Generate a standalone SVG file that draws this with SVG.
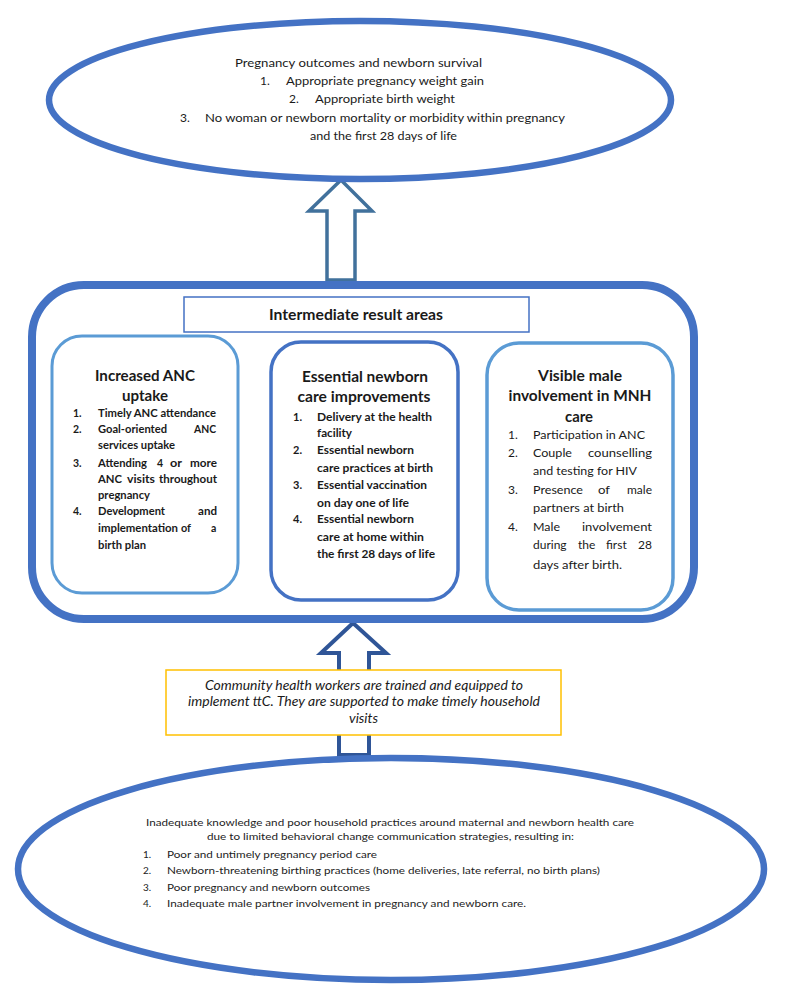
<svg xmlns="http://www.w3.org/2000/svg" width="785" height="995" viewBox="0 0 785 995">
<style>
text{font-family:Lato,"Liberation Sans",Arial,sans-serif;fill:#1a1a1a}
.big{fill:#fff;stroke:#4472C4;stroke-width:6.5}
.t12{font-size:12px}
.hd{font-size:15px;font-weight:bold;text-anchor:middle}
.b1{font-size:10.5px;font-weight:bold}
.b2{font-size:11px;font-weight:bold}
.r3{font-size:12px}
.it{font-size:12.5px;font-style:italic}
.sm{font-size:10px;fill:#222}
</style>
<rect width="785" height="995" fill="#fff"/>
<g id="connectors">
<path d="M341,180 L372,211 L355,211 L355,280 L327,280 L327,211 L309,211 Z" fill="#fff" stroke="#41719C" stroke-width="3.5" stroke-linejoin="miter"/>
<path d="M353,623 L386,653 L369,653 L369,755 L339,755 L339,653 L321,653 Z" fill="#fff" stroke="#2F5597" stroke-width="4" stroke-linejoin="miter"/>
</g>
<g id="outcomes">
<ellipse class="big" cx="360" cy="100" rx="311" ry="79"/>
<text class="t12" x="235" y="67" textLength="247" lengthAdjust="spacingAndGlyphs">Pregnancy outcomes and newborn survival</text>
<text class="t12" x="260" y="85">1.</text>
<text class="t12" x="286" y="85" textLength="198" lengthAdjust="spacingAndGlyphs">Appropriate pregnancy weight gain</text>
<text class="t12" x="289" y="103">2.</text>
<text class="t12" x="315" y="103" textLength="140" lengthAdjust="spacingAndGlyphs">Appropriate birth weight</text>
<text class="t12" x="180" y="122">3.</text>
<text class="t12" x="205" y="122" textLength="360" lengthAdjust="spacingAndGlyphs">No woman or newborn mortality or morbidity within pregnancy</text>
<text class="t12" x="310" y="140" textLength="147" lengthAdjust="spacingAndGlyphs">and the first 28 days of life</text>
</g>
<g id="intermediate">
<rect x="32" y="285" width="662" height="334" rx="52" ry="52" fill="#fff" stroke="#4472C4" stroke-width="8"/>
</g>
<g id="intermediate-label">
<rect x="184" y="297" width="345" height="35" fill="#fff" stroke="#4472C4" stroke-width="1.5"/>
<text x="269" y="320" font-size="14.5" font-weight="bold" textLength="174" lengthAdjust="spacingAndGlyphs">Intermediate result areas</text>
</g>
<g id="anc">
<rect x="52" y="336" width="186" height="257" rx="30" ry="30" fill="#fff" stroke="#5B9BD5" stroke-width="3"/>
<text class="hd" x="145" y="381" textLength="100" lengthAdjust="spacingAndGlyphs">Increased ANC</text>
<text class="hd" x="145" y="401" textLength="46" lengthAdjust="spacingAndGlyphs">uptake</text>
<text class="b1" x="73" y="417">1.</text>
<text class="b1" x="98" y="417" textLength="118" lengthAdjust="spacingAndGlyphs">Timely ANC attendance</text>
<text class="b1" x="73" y="433">2.</text>
<text class="b1" x="98" y="433" textLength="69" lengthAdjust="spacingAndGlyphs">Goal-oriented</text>
<text class="b1" x="194" y="433" textLength="22" lengthAdjust="spacingAndGlyphs">ANC</text>
<text class="b1" x="98" y="449" textLength="77" lengthAdjust="spacingAndGlyphs">services uptake</text>
<text class="b1" x="73" y="467">3.</text>
<text class="b1" x="98" y="467" textLength="49" lengthAdjust="spacingAndGlyphs">Attending</text>
<text class="b1" x="157" y="467">4</text>
<text class="b1" x="170" y="467" textLength="12" lengthAdjust="spacingAndGlyphs">or</text>
<text class="b1" x="190" y="467" textLength="27" lengthAdjust="spacingAndGlyphs">more</text>
<text class="b1" x="98" y="483" textLength="24" lengthAdjust="spacingAndGlyphs">ANC</text>
<text class="b1" x="127" y="483" textLength="28" lengthAdjust="spacingAndGlyphs">visits</text>
<text class="b1" x="159" y="483" textLength="58" lengthAdjust="spacingAndGlyphs">throughout</text>
<text class="b1" x="98" y="499" textLength="52" lengthAdjust="spacingAndGlyphs">pregnancy</text>
<text class="b1" x="73" y="515">4.</text>
<text class="b1" x="98" y="515" textLength="67" lengthAdjust="spacingAndGlyphs">Development</text>
<text class="b1" x="198" y="515" textLength="19" lengthAdjust="spacingAndGlyphs">and</text>
<text class="b1" x="98" y="532" textLength="80" lengthAdjust="spacingAndGlyphs">implementation</text>
<text class="b1" x="181" y="532" textLength="10" lengthAdjust="spacingAndGlyphs">of</text>
<text class="b1" x="211" y="532">a</text>
<text class="b1" x="98" y="549" textLength="48" lengthAdjust="spacingAndGlyphs">birth plan</text>
</g>
<g id="newborn">
<rect x="271" y="342" width="187" height="258" rx="30" ry="30" fill="#fff" stroke="#4472C4" stroke-width="3.5"/>
<text class="hd" x="365" y="382" textLength="126" lengthAdjust="spacingAndGlyphs">Essential newborn</text>
<text class="hd" x="364" y="402" textLength="133" lengthAdjust="spacingAndGlyphs">care improvements</text>
<text class="b2" x="293" y="421">1.</text>
<text class="b2" x="317" y="421" textLength="115" lengthAdjust="spacingAndGlyphs">Delivery at the health</text>
<text class="b2" x="317" y="437" textLength="35" lengthAdjust="spacingAndGlyphs">facility</text>
<text class="b2" x="293" y="454">2.</text>
<text class="b2" x="317" y="454" textLength="97" lengthAdjust="spacingAndGlyphs">Essential newborn</text>
<text class="b2" x="317" y="472" textLength="116" lengthAdjust="spacingAndGlyphs">care practices at birth</text>
<text class="b2" x="293" y="489">3.</text>
<text class="b2" x="317" y="489" textLength="110" lengthAdjust="spacingAndGlyphs">Essential vaccination</text>
<text class="b2" x="317" y="507" textLength="92" lengthAdjust="spacingAndGlyphs">on day one of life</text>
<text class="b2" x="293" y="523">4.</text>
<text class="b2" x="317" y="523" textLength="97" lengthAdjust="spacingAndGlyphs">Essential newborn</text>
<text class="b2" x="317" y="541" textLength="107" lengthAdjust="spacingAndGlyphs">care at home within</text>
<text class="b2" x="317" y="558" textLength="118" lengthAdjust="spacingAndGlyphs">the first 28 days of life</text>
</g>
<g id="male">
<rect x="487" y="343" width="186" height="267" rx="32" ry="32" fill="#fff" stroke="#5B9BD5" stroke-width="3.5"/>
<text class="hd" x="580" y="381" textLength="84" lengthAdjust="spacingAndGlyphs">Visible male</text>
<text class="hd" x="580" y="401" textLength="143" lengthAdjust="spacingAndGlyphs">involvement in MNH</text>
<text class="hd" x="579" y="422" textLength="28" lengthAdjust="spacingAndGlyphs">care</text>
<text class="r3" x="508" y="439">1.</text>
<text class="r3" x="533" y="439" textLength="112" lengthAdjust="spacingAndGlyphs">Participation in ANC</text>
<text class="r3" x="508" y="457">2.</text>
<text class="r3" x="533" y="457" textLength="39" lengthAdjust="spacingAndGlyphs">Couple</text>
<text class="r3" x="588" y="457" textLength="64" lengthAdjust="spacingAndGlyphs">counselling</text>
<text class="r3" x="533" y="475" textLength="104" lengthAdjust="spacingAndGlyphs">and testing for HIV</text>
<text class="r3" x="508" y="494">3.</text>
<text class="r3" x="533" y="494" textLength="50" lengthAdjust="spacingAndGlyphs">Presence</text>
<text class="r3" x="598" y="494" textLength="12" lengthAdjust="spacingAndGlyphs">of</text>
<text class="r3" x="627" y="494" textLength="25" lengthAdjust="spacingAndGlyphs">male</text>
<text class="r3" x="533" y="512" textLength="91" lengthAdjust="spacingAndGlyphs">partners at birth</text>
<text class="r3" x="508" y="531">4.</text>
<text class="r3" x="533" y="531" textLength="27" lengthAdjust="spacingAndGlyphs">Male</text>
<text class="r3" x="582" y="531" textLength="70" lengthAdjust="spacingAndGlyphs">involvement</text>
<text class="r3" x="533" y="549">during</text>
<text class="r3" x="578" y="549">the</text>
<text class="r3" x="606" y="549">first</text>
<text class="r3" x="652" y="549" text-anchor="end">28</text>
<text class="r3" x="533" y="569" textLength="89" lengthAdjust="spacingAndGlyphs">days after birth.</text>
</g>
<g id="chw">
<rect x="166" y="670" width="395" height="65" fill="#fff" stroke="#FFC000" stroke-width="1.5"/>
<text class="it" x="205" y="690" textLength="318" lengthAdjust="spacingAndGlyphs">Community health workers are trained and equipped to</text>
<text class="it" x="188" y="706" textLength="352" lengthAdjust="spacingAndGlyphs">implement ttC. They are supported to make timely household</text>
<text class="it" x="349" y="723" textLength="29" lengthAdjust="spacingAndGlyphs">visits</text>
</g>
<g id="problem">
<ellipse class="big" cx="391" cy="869" rx="373" ry="111"/>
<text class="sm" x="146" y="826" textLength="488" lengthAdjust="spacingAndGlyphs">Inadequate knowledge and poor household practices around maternal and newborn health care</text>
<text class="sm" x="207" y="840" textLength="367" lengthAdjust="spacingAndGlyphs">due to limited behavioral change communication strategies, resulting in:</text>
<text class="sm" x="143" y="858">1.</text>
<text class="sm" x="167" y="858" textLength="210" lengthAdjust="spacingAndGlyphs">Poor and untimely pregnancy period care</text>
<text class="sm" x="143" y="874">2.</text>
<text class="sm" x="167" y="874" textLength="433" lengthAdjust="spacingAndGlyphs">Newborn-threatening birthing practices (home deliveries, late referral, no birth plans)</text>
<text class="sm" x="143" y="891">3.</text>
<text class="sm" x="167" y="891" textLength="203" lengthAdjust="spacingAndGlyphs">Poor pregnancy and newborn outcomes</text>
<text class="sm" x="143" y="907">4.</text>
<text class="sm" x="167" y="907" textLength="359" lengthAdjust="spacingAndGlyphs">Inadequate male partner involvement in pregnancy and newborn care.</text>
</g>
</svg>
